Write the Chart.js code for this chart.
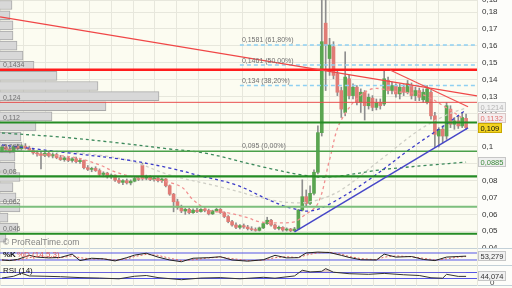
<!DOCTYPE html>
<html>
<head>
<meta charset="utf-8">
<script src="https://cdn.jsdelivr.net/npm/chart.js@4.4.0/dist/chart.umd.min.js"></script>
<style>
  html, body { margin: 0; padding: 0; background: #fdfdf6; }
  #wrap { position: relative; width: 512px; height: 288px; overflow: hidden; }
  #wrap canvas { position: absolute; left: 0; }
</style>
</head>
<body>
<div id="wrap">
  <canvas id="main" width="512" height="248" style="top:0"></canvas>
  <canvas id="stoch" width="512" height="17" style="top:248px"></canvas>
  <canvas id="rsi" width="512" height="21" style="top:265px"></canvas>
</div>
<script>
// ---- daily candles ----
const opens = [
  .0955, .0975, .0960, .0950, .0978, .0965, .0980, .0968, .0955, .0940,
  .0935, .0925, .0938, .0922, .0930, .0912, .0900, .0910, .0895, .0905,
  .0888, .0895, .0852, .0842, .0848, .0835, .0812, .0820, .0798, .0808,
  .0778, .0765, .0775, .0762, .0772, .0788, .0865, .0790, .0800, .0782,
  .0790, .0775, .0785, .0745, .0695, .0650, .0615, .0595, .0605, .0585,
  .0600, .0592, .0605, .0598, .0578, .0595, .0605, .0585, .0562, .0532,
  .0512, .0498, .0508, .0500, .0490, .0485, .0480, .0495, .0520, .0540,
  .0512, .0492, .0498, .0482, .0488, .0478, .0488, .0600, .0680, .0640,
  .0700, .0825, .1060, .1710, .1500, .1570, .1410, .1310, .1180, .1380,
  .1280, .1330, .1240, .1300, .1220, .1265, .1210, .1240, .1230, .1370,
  .1310, .1340, .1290, .1330, .1300, .1340, .1280, .1310, .1255, .1240,
  .1300, .1160, .1040, .1080, .1040, .1200, .1110, .1130, .1100, .1145
];
const highs = [
  .0985, .0990, .0978, .0985, .0992, .0990, .0995, .0980, .0968, .0952,
  .0948, .0945, .0950, .0940, .0938, .0925, .0918, .0920, .0912, .0915,
  .0902, .0898, .0865, .0855, .0858, .0845, .0828, .0825, .0815, .0810,
  .0790, .0782, .0785, .0780, .0795, .0800, .0880, .0808, .0805, .0798,
  .0795, .0790, .0788, .0750, .0700, .0665, .0630, .0612, .0612, .0608,
  .0612, .0610, .0615, .0606, .0600, .0612, .0610, .0590, .0568, .0540,
  .0525, .0515, .0518, .0510, .0502, .0495, .0500, .0528, .0558, .0545,
  .0518, .0505, .0502, .0495, .0492, .0498, .0605, .0780, .0720, .0745,
  .0840, .1100, .1880, .1890, .1620, .1600, .1430, .1330, .1540, .1400,
  .1350, .1340, .1320, .1310, .1290, .1280, .1260, .1260, .1432, .1390,
  .1360, .1350, .1350, .1345, .1370, .1355, .1330, .1325, .1320, .1340,
  .1310, .1180, .1090, .1100, .1240, .1220, .1150, .1160, .1180, .1170
];
const lows = [
  .0945, .0955, .0940, .0945, .0958, .0960, .0962, .0948, .0932, .0920,
  .0845, .0918, .0915, .0910, .0905, .0895, .0890, .0888, .0885, .0880,
  .0878, .0845, .0835, .0828, .0830, .0805, .0798, .0790, .0788, .0770,
  .0758, .0752, .0755, .0750, .0768, .0775, .0778, .0780, .0775, .0772,
  .0768, .0765, .0738, .0688, .0590, .0605, .0585, .0575, .0578, .0580,
  .0585, .0588, .0590, .0572, .0574, .0590, .0580, .0555, .0525, .0505,
  .0490, .0488, .0492, .0482, .0478, .0475, .0476, .0490, .0515, .0505,
  .0485, .0482, .0475, .0476, .0472, .0474, .0484, .0595, .0620, .0632,
  .0690, .0815, .1040, .1310, .1400, .1380, .1280, .1150, .1160, .1260,
  .1260, .1225, .1180, .1135, .1200, .1190, .1195, .1200, .1220, .1290,
  .1290, .1270, .1260, .1280, .1290, .1260, .1250, .1250, .1240, .1230,
  .1140, .0972, .0975, .1000, .1020, .1090, .1080, .1085, .1090, .1080
];
const closes = [
  .0975, .0960, .0950, .0978, .0965, .0982, .0968, .0955, .0940, .0935,
  .0925, .0938, .0922, .0930, .0912, .0900, .0910, .0895, .0905, .0888,
  .0895, .0852, .0842, .0848, .0835, .0812, .0820, .0798, .0808, .0778,
  .0765, .0775, .0762, .0772, .0788, .0782, .0790, .0800, .0782, .0790,
  .0775, .0785, .0745, .0695, .0650, .0615, .0595, .0605, .0585, .0600,
  .0592, .0605, .0598, .0578, .0595, .0605, .0585, .0562, .0532, .0512,
  .0498, .0508, .0500, .0490, .0485, .0480, .0495, .0520, .0540, .0512,
  .0492, .0498, .0482, .0488, .0478, .0488, .0600, .0680, .0640, .0700,
  .0825, .1060, .1600, .1580, .1580, .1400, .1300, .1200, .1390, .1280,
  .1330, .1240, .1300, .1220, .1270, .1210, .1240, .1220, .1380, .1310,
  .1340, .1290, .1330, .1300, .1350, .1280, .1310, .1270, .1300, .1320,
  .1160, .1050, .1080, .1040, .1220, .1110, .1130, .1100, .1150, .1090
];

// volume by price (left histogram)
const profilePrices = [
  .1818, .1757, .1697, .1637, .1577, .1517, .1457, .1397, .1337, .1277, .1217, .1157,
  .1097, .1037, .0977, .0917, .0857, .0797, .0737, .0676, .0616, .0556, .0496, .0436
];
const profileVolumes = [12, 10, 13, 13, 17, 23, 34, 57, 98, 159, 106, 52, 36, 21, 22, 15, 15, 20, 13, 16, 20, 8, 18, 6];

// horizontal levels
const resistLevels = [0.1434, 0.124];
const supportLevels = [0.112, 0.095, 0.08, 0.062, 0.046];
const fibLevels = [0.1581, 0.1461, 0.134];
const fibPcts = ['61,80%', '50,00%', '38,20%'];
const fibBase = 0.095;
const fibStart = 61;

// trend lines: [index, price] pairs
const trendLongX = [-0.5, 121.8], trendLongY = [0.1747, 0.1278];
const trendSteepX = [99.5, 119.5], trendSteepY = [0.1432, 0.1214];
const trendUpX = [75, 119.5], trendUpY = [0.0471, 0.1088];

// moving averages (read at sample points)
const maBlueX = [0, 17, 32, 43, 51, 60, 69, 74, 79, 84, 94, 105, 114, 119];
const maBlueY = [.0987, .0940, .0898, .0850, .0803, .0750, .0655, .0613, .0595, .0636, .0779, .0969, .1112, .1195];
const maGreenX = [0, 15, 30, 43, 52, 67, 77, 84, 97, 110, 119];
const maGreenY = [.1058, .1034, .0999, .0963, .0939, .0856, .0809, .0797, .0839, .0868, .0885];
const maGrayX = [5, 17, 32, 43, 56, 69, 76, 81, 87, 97, 107, 114, 119];
const maGrayY = [.0951, .0945, .0898, .0809, .0738, .0661, .0643, .0661, .0720, .0898, .1076, .1165, .1207];
const maPinkX = [9, 12, 19, 25, 29, 35, 40, 46, 49, 53, 58, 63, 66, 71, 75, 77, 81, 84, 87, 94, 102, 108, 114, 119];
const maPinkY = [.0928, .0928, .0911, .0869, .0827, .0791, .0779, .0738, .0661, .0601, .0584, .0555, .0531, .0525, .0531, .0561, .0640, .0900, .1135, .1313, .1301, .1284, .1207, .1132];

// indicators
const stochX = [0, 2, 4, 7, 9, 12, 15, 18, 20, 23, 26, 29, 32, 34, 37, 40, 43, 46, 49, 53, 56, 59, 63, 67, 70, 73, 76, 78, 81, 84, 87, 89, 92, 96, 98, 101, 105, 108, 111, 114, 117, 119];
const stochK = [20, 15, 25, 60, 45, 38, 42, 70, 15, 35, 30, 12, 40, 62, 78, 45, 20, 5, 35, 40, 48, 20, 10, 22, 60, 38, 40, 80, 88, 84, 60, 42, 22, 20, 70, 45, 50, 25, 15, 45, 50, 53.279];
const stochD = [20, 18, 20, 40, 50, 42, 40, 55, 40, 28, 30, 20, 28, 50, 68, 60, 35, 15, 22, 38, 45, 32, 15, 18, 40, 48, 40, 62, 82, 86, 70, 50, 32, 22, 45, 55, 48, 35, 20, 30, 45, 50];
const rsiX = [0, 3, 5, 7, 11, 15, 20, 25, 30, 34, 37, 40, 46, 51, 56, 61, 67, 70, 75, 77, 79, 82, 83, 85, 89, 94, 98, 103, 107, 110, 113, 114, 117, 119];
const rsiV = [33, 45, 65, 47, 45, 42, 36, 33, 28, 45, 50, 36, 22, 33, 36, 28, 38, 32, 47, 85, 74, 78, 96, 72, 62, 58, 64, 55, 50, 35, 32, 58, 44, 44.074];

const XMIN = -0.51, XMAX = 121.8;
const YMIN = 0.03754, YMAX = 0.18475;
const GRID = '#e7e7dc';
const PLOT_BG = '#fcfcf1';
const FONT = '"Liberation Sans", Arial, sans-serif';

const fmt = v => String(+v.toFixed(4)).replace('.', ',');
const pts = (xs, ys) => xs.map((x, i) => ({ x, y: ys[i] }));
const idx = closes.map((_, i) => i);

function fixAxis(scale) {
  scale.width = 35;
  scale.paddingTop = 0;
  scale.paddingBottom = 0;
}

function line(data, color, width, order, extra) {
  return Object.assign({
    type: 'line', data, borderColor: color, borderWidth: width,
    pointRadius: 0, fill: false, order
  }, extra || {});
}

function tag(ctx, text, y, fill, stroke, color) {
  ctx.font = '7.5px ' + FONT;
  const w = Math.ceil(ctx.measureText(text).width) + 5;
  ctx.fillStyle = fill;
  ctx.fillRect(478, Math.round(y) - 5, w, 10);
  ctx.strokeStyle = stroke;
  ctx.lineWidth = 1;
  ctx.strokeRect(478.5, Math.round(y) - 4.5, w - 1, 9);
  ctx.fillStyle = color;
  ctx.textBaseline = 'middle';
  ctx.textAlign = 'left';
  ctx.fillText(text, 480.5, Math.round(y) + 0.5);
}

const background = {
  id: 'background',
  beforeDraw(chart) {
    const { ctx, chartArea: a, width, height } = chart;
    ctx.save();
    ctx.fillStyle = '#fdfdfa';
    ctx.fillRect(0, 0, width, height);
    ctx.fillStyle = PLOT_BG;
    ctx.fillRect(a.left, a.top, a.right - a.left, a.bottom - a.top);
    ctx.strokeStyle = '#c6ccd0';
    ctx.lineWidth = 1;
    ctx.beginPath();
    ctx.moveTo(a.right + 0.5, 0);
    ctx.lineTo(a.right + 0.5, height);
    ctx.stroke();
    if (chart.canvas.id !== 'main') {
      ctx.strokeStyle = '#c3d0d8';
      ctx.beginPath();
      ctx.moveTo(0, 0.5);
      ctx.lineTo(width, 0.5);
      if (chart.canvas.id === 'rsi') {
        ctx.moveTo(0, height - 0.5);
        ctx.lineTo(width, height - 0.5);
      }
      ctx.stroke();
    }
    ctx.restore();
  }
};

const mainOverlay = {
  id: 'mainOverlay',
  afterDatasetsDraw(chart) {
    const { ctx, scales: { x, y } } = chart;
    ctx.save();
    ctx.textAlign = 'left';
    ctx.textBaseline = 'bottom';
    ctx.font = '7px ' + FONT;
    ctx.fillStyle = '#707070';
    resistLevels.concat(supportLevels).forEach(v => {
      ctx.fillText(fmt(v), 3, y.getPixelForValue(v) - 1);
    });
    const fx = x.getPixelForValue(fibStart) + 2;
    fibLevels.forEach((v, i) => {
      ctx.fillText(fmt(v) + ' (' + fibPcts[i] + ')', fx, y.getPixelForValue(v) - 1);
    });
    ctx.fillText(fmt(fibBase) + ' (0,00%)', fx, y.getPixelForValue(fibBase) - 2);

    ctx.font = '8.5px ' + FONT;
    ctx.fillStyle = '#808080';
    ctx.textBaseline = 'middle';
    ctx.fillText('\u00A9 ProRealTime.com', 3, chart.chartArea.bottom - 5);

    // value tags on the price axis, pushed apart when they collide
    const tags = [
      { v: trendSteepY[1], text: fmt(trendSteepY[1]), fill: '#f1f1f1', stroke: '#cfcfcf', color: '#b4b4b4' },
      { v: maPinkY[maPinkY.length - 1], text: fmt(maPinkY[maPinkY.length - 1]), fill: '#f5eeee', stroke: '#d9c7c7', color: '#e07272' },
      { v: closes[closes.length - 1], text: fmt(closes[closes.length - 1]), fill: '#f3d320', stroke: '#c8a800', color: '#111111' },
      { v: maGreenY[maGreenY.length - 1], text: fmt(maGreenY[maGreenY.length - 1]), fill: '#efefef', stroke: '#c6c6c6', color: '#3d8c3d' }
    ];
    tags.forEach(t => t.py = y.getPixelForValue(t.v));
    for (let i = tags.length - 2; i >= 0; i--) {
      if (tags[i + 1].py - tags[i].py < 10) tags[i].py = tags[i + 1].py - 10;
    }
    tags.forEach(t => tag(ctx, t.text, t.py, t.fill, t.stroke, t.color));
    ctx.restore();
  }
};

const xAxis = {
  type: 'linear', min: XMIN, max: XMAX, offset: false,
  ticks: { display: false, stepSize: 5.6 },
  grid: { color: GRID, drawTicks: false, offset: false },
  border: { display: false }
};

const baseOptions = {
  responsive: false, animation: false, devicePixelRatio: 1, events: [],
  layout: { padding: 0 },
  plugins: { legend: { display: false }, tooltip: { enabled: false } }
};

// ---- main price panel ----
const hlines = [
  line(pts([XMIN, XMAX], [resistLevels[0], resistLevels[0]]), '#ff1c1c', 2.5, 2),
  line(pts([XMIN, XMAX], [resistLevels[1], resistLevels[1]]), '#e85050', 1, 2),
  line(pts([XMIN, XMAX], [supportLevels[0], supportLevels[0]]), '#258c25', 2, 2),
  line(pts([XMIN, XMAX], [supportLevels[1], supportLevels[1]]), '#4aa04a', 1.5, 2),
  line(pts([XMIN, XMAX], [supportLevels[2], supportLevels[2]]), '#258c25', 2.2, 2),
  line(pts([XMIN, XMAX], [supportLevels[3], supportLevels[3]]), '#7dbf7d', 2, 2),
  line(pts([XMIN, XMAX], [supportLevels[4], supportLevels[4]]), '#258c25', 2.2, 2)
];
const fibs = fibLevels.map(v =>
  line(pts([fibStart, XMAX], [v, v]), '#8fd0f2', 1.5, 3, { borderDash: [4, 3] }));

new Chart(document.getElementById('main'), {
  type: 'line',
  data: {
    datasets: [
      line(pts(trendLongX, trendLongY), '#f04646', 1.2, 1),
      line(pts(trendSteepX, trendSteepY), '#f05050', 1.2, 1),
      line(pts(trendUpX, trendUpY), '#4646c8', 1.5, 1),
      ...hlines,
      ...fibs,
      line(pts(maBlueX, maBlueY), '#3a3ac8', 1.3, 4, { borderDash: [3, 3], tension: 0.35 }),
      line(pts(maGreenX, maGreenY), '#3d8a5c', 1.3, 4, { borderDash: [3, 3], tension: 0.35 }),
      line(pts(maGrayX, maGrayY), '#cfcfc6', 1.3, 4, { borderDash: [3, 3], tension: 0.35 }),
      line(pts(maPinkX, maPinkY), '#f19090', 1.3, 4, { borderDash: [3, 3], tension: 0.35 }),
      {
        type: 'bar', order: 5, grouped: false, barThickness: 3,
        data: idx.map(i => ({ x: i, y: [opens[i], closes[i]] })),
        backgroundColor: idx.map(i => closes[i] >= opens[i] ? '#5aa550' : '#e07c76'),
        borderWidth: 0
      },
      {
        type: 'bar', order: 6, grouped: false, barThickness: 1,
        data: idx.map(i => ({ x: i, y: [lows[i], highs[i]] })),
        backgroundColor: '#8e8e8e', borderWidth: 0
      },
      {
        type: 'bar', order: 9, grouped: false, indexAxis: 'y', barThickness: 9,
        xAxisID: 'xv', yAxisID: 'y',
        data: profilePrices.map((p, k) => ({ x: profileVolumes[k], y: p })),
        backgroundColor: '#d8d8d8', borderColor: '#a9a9a9', borderWidth: 1
      }
    ]
  },
  options: Object.assign({}, baseOptions, {
    scales: {
      x: xAxis,
      xv: { type: 'linear', min: 0, max: 477, display: false, beginAtZero: true },
      y: {
        type: 'linear', position: 'right', min: YMIN, max: YMAX,
        bounds: 'data', offset: false,
        afterFit: fixAxis,
        ticks: {
          stepSize: 0.01, includeBounds: false, padding: 5,
          color: '#333', font: { family: FONT, size: 8 },
          callback: v => fmt(+v.toFixed(2))
        },
        grid: { color: GRID, drawTicks: false, offset: false },
        border: { display: false }
      }
    }
  }),
  plugins: [background, mainOverlay]
});

// ---- stochastic panel ----
new Chart(document.getElementById('stoch'), {
  type: 'line',
  data: {
    datasets: [
      line(pts(stochX, stochK), '#222222', 1, 1, {
        fill: { target: { value: 80 }, above: 'rgba(236,150,150,0.55)', below: 'rgba(0,0,0,0)' }
      }),
      line(pts(stochX, stochD), '#e06464', 1, 2, { borderDash: [2, 2] }),
      line(pts([XMIN, XMAX], [80, 80]), '#5555e6', 1, 3),
      line(pts([XMIN, XMAX], [20, 20]), '#5555e6', 1, 3)
    ]
  },
  options: Object.assign({}, baseOptions, {
    scales: {
      x: xAxis,
      y: {
        type: 'linear', position: 'right', min: -22.9, max: 122.9, bounds: 'data',
        afterFit: fixAxis, ticks: { display: false },
        grid: { display: false }, border: { display: false }
      }
    }
  }),
  plugins: [background, {
    id: 'stochText',
    afterDatasetsDraw(chart) {
      const { ctx, scales: { y } } = chart;
      ctx.save();
      ctx.textBaseline = 'middle';
      ctx.font = 'bold 8px ' + FONT;
      ctx.fillStyle = '#111';
      ctx.fillText('%K', 3, 6.5);
      ctx.font = '8px ' + FONT;
      ctx.fillStyle = '#e05a5a';
      ctx.fillText('%D (14,5,3)', 17, 6.5);
      tag(ctx, fmt(stochK[stochK.length - 1]), y.getPixelForValue(stochK[stochK.length - 1]), '#f1f1f1', '#c6c6c6', '#333');
      ctx.restore();
    }
  }]
});

// ---- RSI panel ----
new Chart(document.getElementById('rsi'), {
  type: 'line',
  data: {
    datasets: [
      line(pts(rsiX, rsiV), '#333333', 1, 1, {
        fill: { target: { value: 70 }, above: 'rgba(205,170,170,0.6)', below: 'rgba(0,0,0,0)' }
      }),
      line(pts([XMIN, XMAX], [70, 70]), '#5555e6', 1, 3),
      line(pts([XMIN, XMAX], [30, 30]), '#5555e6', 1, 3)
    ]
  },
  options: Object.assign({}, baseOptions, {
    scales: {
      x: xAxis,
      y: {
        type: 'linear', position: 'right', min: -20, max: 120, bounds: 'data',
        afterFit: fixAxis,
        afterBuildTicks: s => { s.ticks = [{ value: 0 }, { value: 100 }]; },
        ticks: { padding: 5, color: '#444', font: { family: FONT, size: 8 } },
        grid: { display: false }, border: { display: false }
      }
    }
  }),
  plugins: [background, {
    id: 'rsiText',
    afterDatasetsDraw(chart) {
      const { ctx, scales: { y } } = chart;
      ctx.save();
      ctx.textBaseline = 'middle';
      ctx.font = '8px ' + FONT;
      ctx.fillStyle = '#111';
      ctx.fillText('RSI (14)', 3, 5.5);
      tag(ctx, fmt(rsiV[rsiV.length - 1]), y.getPixelForValue(rsiV[rsiV.length - 1]), '#f1f1f1', '#c6c6c6', '#333');
      ctx.restore();
    }
  }]
});
</script>
</body>
</html>
